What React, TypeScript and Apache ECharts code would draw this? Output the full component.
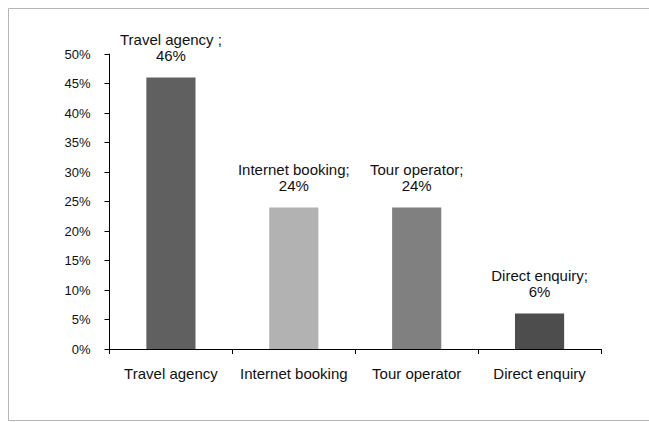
import React, { useEffect, useRef } from "react";
import * as echarts from "echarts";

const categories = ["Travel agency", "Internet booking", "Tour operator", "Direct enquiry"];
const labelNames = ["Travel agency ;", "Internet booking;", "Tour operator;", "Direct enquiry;"];
const values = [46, 24, 24, 6];
const barColors = ["#606060", "#b2b2b2", "#808080", "#4d4d4d"];
const yMin = 0;
const yMax = 50;
const yInterval = 5;

const FONT = "'Liberation Sans', Arial, sans-serif";

export default function App() {
  const ref = useRef<HTMLDivElement>(null);
  useEffect(() => {
    if (!ref.current) return;
    const chart = echarts.init(ref.current, undefined, { renderer: "svg" });
    chart.setOption({
      animation: false,
      backgroundColor: "#ffffff",
      graphic: [
        {
          type: "rect",
          shape: { x: 8.5, y: 8.5, width: 660, height: 412 },
          style: { fill: "none", stroke: "#b5b5b5", lineWidth: 1 },
          silent: true,
          z: -1,
        },
      ],
      grid: { left: 109.5, right: 48, top: 54, bottom: 73, containLabel: false },
      xAxis: {
        type: "category",
        data: categories,
        axisLine: { lineStyle: { color: "#000", width: 1 } },
        axisTick: { show: true, length: 5, lineStyle: { color: "#000" } },
        axisLabel: { color: "#111", fontFamily: FONT, fontSize: 15, margin: 17, interval: 0 },
      },
      yAxis: {
        type: "value",
        min: yMin,
        max: yMax,
        interval: yInterval,
        splitLine: { show: false },
        axisLine: { show: true, lineStyle: { color: "#000", width: 1 } },
        axisTick: { show: true, length: 5, lineStyle: { color: "#000" } },
        axisLabel: { color: "#111", fontFamily: FONT, fontSize: 13, margin: 19, formatter: "{value}%" },
      },
      series: [
        {
          type: "bar",
          barWidth: "40%",
          data: values.map((v, i) => ({ value: v, itemStyle: { color: barColors[i] } })),
          label: {
            show: true,
            position: "top",
            distance: 14,
            color: "#111",
            fontFamily: FONT,
            fontSize: 15,
            lineHeight: 16,
            align: "center",
            formatter: (p: any) => `${labelNames[p.dataIndex]}\n${p.value}%`,
          },
        },
      ],
    });
    return () => chart.dispose();
  }, []);
  return (
    <div
      ref={ref}
      style={{ position: "fixed", left: 0, top: 0, width: 649, height: 422 }}
    />
  );
}
